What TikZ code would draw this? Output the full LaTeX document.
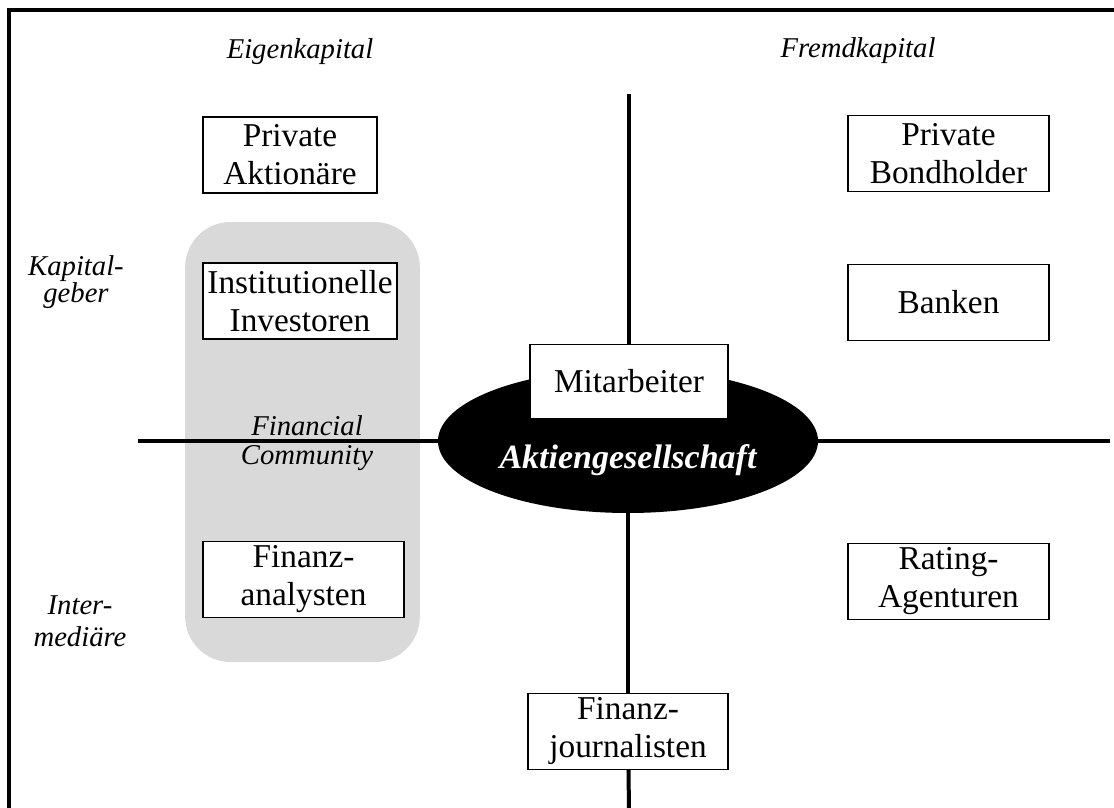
\documentclass[tikz,border=0pt]{standalone}
\usepackage{fontspec}
\setmainfont{Liberation Serif}
\usetikzlibrary{shapes,positioning,calc}
\definecolor{mygray}{HTML}{D9D9D9}
\tikzstyle{box} = [rectangle, draw, fill=white, align=center, line width=0.8pt,
minimum height=57pt, inner sep=2pt, font=\fontsize{25}{28.5}\selectfont]
\tikzstyle{axislabel} = [align=center, inner sep=0pt, font=\fontsize{21.5}{20}\selectfont\itshape]
\tikzstyle{line} = [draw, line width=3pt]

\begin{document}
\begin{tikzpicture}[x=0.75pt, y=-0.75pt]
    \useasboundingbox (0,0) rectangle (1114,807);

    % frame
    \coordinate (frame sw) at (9,810);
    \coordinate (frame nw) at (9,10);
    \coordinate (frame ne) at (1117,10);
    \draw[line width=3pt] (frame sw) -- (frame nw) -- (frame ne);

    % Nodes
    \node [rectangle, fill=mygray, rounded corners=34pt, minimum width=176pt, minimum height=330pt] (community) at (302.5,442) {};
    \node [ellipse, fill=black, minimum width=285pt, minimum height=108pt, inner sep=0pt] (ag) at (628,441) {};

    \node [box, minimum width=130.5pt] (aktionaere) at (290,155) {Private\\Aktionäre};
    \node [box, minimum width=145.5pt] (institutionelle) at (300,301) {Institutionelle\\Investoren};
    \node [box, minimum width=150.75pt] (analysten) at (303.5,579.5) {Finanz-\\analysten};
    \node [box, minimum width=150.75pt] (bondholder) at (948.5,153.5) {Private\\Bondholder};
    \node [box, minimum width=150.75pt] (banken) at (948.5,302.5) {Banken};
    \node [box, minimum width=150.75pt] (rating) at (948.5,581.5) {Rating-\\Agenturen};
    \node [box, minimum width=148.5pt, minimum height=56pt] (mitarbeiter) at (629,381.5) {Mitarbeiter};
    \node [box, minimum width=150pt] (journalisten) at (628,731.5) {Finanz-\\journalisten};

    % axes
    \coordinate (west) at (138,441);
    \coordinate (east) at (1110,441);
    \coordinate (north) at (629,94);
    \coordinate (south) at (629,810);
    \draw[line] (west) -- (ag);
    \draw[line] (ag) -- (east);
    \draw[line] (north) -- (mitarbeiter);
    \draw[line] (ag) -- (journalisten);
    \draw[line] (journalisten) -- (south);

    % labels
    \node [white, inner sep=0pt, font=\fontsize{25.5}{28}\selectfont\bfseries\itshape] (agname) at ([yshift=-14pt]ag.center) {Aktiengesellschaft};
    \node [axislabel, anchor=base] (eigen) at (300,58) {Eigenkapital};
    \node [axislabel, anchor=base] (fremd) at (858,57) {Fremdkapital};
    \node [axislabel] (geber) at (76,282) {Kapital-\\geber};
    \node [axislabel, font=\fontsize{21.5}{24}\selectfont\itshape] (intermediaere) at (80,621) {Inter-\\mediäre};
    \node [axislabel, font=\fontsize{21.5}{22}\selectfont\itshape] (fincom) at (307,443) {Financial\\Community};

\end{tikzpicture}
\end{document}
